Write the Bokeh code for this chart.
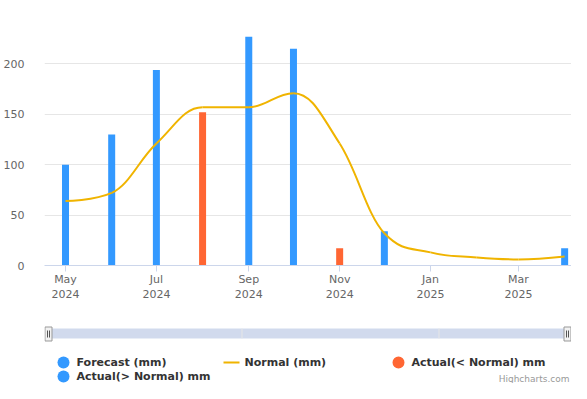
from datetime import datetime, timezone
from bokeh.plotting import figure
from bokeh.layouts import column
from bokeh.models import Range1d, FixedTicker
from bokeh.embed import file_html
from bokeh.resources import INLINE
from bokeh.core.properties import value

# ---------------- data ----------------
months = ["2024-05", "2024-06", "2024-07", "2024-08", "2024-09", "2024-10",
          "2024-11", "2024-12", "2025-01", "2025-02", "2025-03", "2025-04"]
normal_mm = [64, 72, 121, 157, 157, 171, 121, 32, 13, 8, 6, 9]

above_months = ["2024-05", "2024-06", "2024-07", "2024-09", "2024-10", "2024-12"]
above_mm = [100, 130, 194, 227, 215, 34]

below_months = ["2024-08", "2024-11"]
below_mm = [152, 17]

forecast_months = ["2025-04"]
forecast_mm = [17]

tick_months = ["2024-05", "2024-07", "2024-09", "2024-11", "2025-01", "2025-03"]
tick_labels = ["May\n2024", "Jul\n2024", "Sep\n2024", "Nov\n2024", "Jan\n2025", "Mar\n2025"]

y_ticks = [0, 50, 100, 150, 200, 250]
y_labels = ["0", "50", "100", "150", "200", ""]

legend_labels = ["Forecast (mm)", "Normal (mm)", "Actual(< Normal) mm", "Actual(> Normal) mm"]
credit_text = "Highcharts.com"

# ---------------- styles ----------------
BLUE = "#3399ff"
RED = "#ff6633"
GOLD = "#f0b400"
FONT = "DejaVu Sans"
DAY = 86400000.0
W, H_MAIN, H_BOT = 571, 314, 69
FRAME_L = 44
PX_PER_DAY = 1.49


def ms(m):
    y, mo = m.split("-")
    return datetime(int(y), int(mo), 1, tzinfo=timezone.utc).timestamp() * 1000.0


def spline_segments(xs, ys):
    """Highcharts-style spline control points (affine invariant)."""
    n = len(xs)
    sm = 1.5
    den = sm + 1
    left = [None] * n
    right = [None] * n
    for i in range(1, n - 1):
        px, py = xs[i], ys[i]
        lx, ly = xs[i - 1], ys[i - 1]
        nx, ny = xs[i + 1], ys[i + 1]
        lcx = (sm * px + lx) / den
        lcy = (sm * py + ly) / den
        rcx = (sm * px + nx) / den
        rcy = (sm * py + ny) / den
        corr = 0.0
        if rcx != lcx:
            corr = ((rcy - lcy) * (rcx - px)) / (rcx - lcx) + py - rcy
        lcy += corr
        rcy += corr
        if lcy > ly and lcy > py:
            lcy = max(ly, py)
            rcy = 2 * py - lcy
        elif lcy < ly and lcy < py:
            lcy = min(ly, py)
            rcy = 2 * py - lcy
        if rcy > ny and rcy > py:
            rcy = max(ny, py)
            lcy = 2 * py - rcy
        elif rcy < ny and rcy < py:
            rcy = min(ny, py)
            lcy = 2 * py - rcy
        left[i] = (lcx, lcy)
        right[i] = (rcx, rcy)
    seg = dict(x0=[], y0=[], x1=[], y1=[], cx0=[], cy0=[], cx1=[], cy1=[])
    for i in range(1, n):
        c0 = right[i - 1] if right[i - 1] else (xs[i - 1], ys[i - 1])
        c1 = left[i] if left[i] else (xs[i], ys[i])
        seg["x0"].append(xs[i - 1]); seg["y0"].append(ys[i - 1])
        seg["x1"].append(xs[i]); seg["y1"].append(ys[i])
        seg["cx0"].append(c0[0]); seg["cy0"].append(c0[1])
        seg["cx1"].append(c1[0]); seg["cy1"].append(c1[1])
    return seg


# ---------------- main chart ----------------
x_start = ms("2024-05") - 21.0 / PX_PER_DAY * DAY
x_end = x_start + (W - FRAME_L) / PX_PER_DAY * DAY

p = figure(width=W, height=H_MAIN, x_axis_type="datetime",
           x_range=Range1d(x_start, x_end), y_range=Range1d(0, 250),
           output_backend="svg", toolbar_location=None,
           min_border_left=FRAME_L, min_border_right=0, min_border_top=13,
           min_border_bottom=49)
p.outline_line_color = None
p.background_fill_color = "white"
p.border_fill_color = "white"
p.xgrid.visible = False
p.ygrid.grid_line_color = "#e6e6e6"
p.ygrid.grid_line_width = 1

p.yaxis.ticker = FixedTicker(ticks=y_ticks, minor_ticks=[])
p.yaxis.major_label_overrides = {t: l for t, l in zip(y_ticks, y_labels)}
p.yaxis.axis_line_color = None
p.yaxis.major_tick_line_color = None
p.yaxis.minor_tick_line_color = None
p.yaxis.major_label_standoff = 14
p.yaxis.major_label_text_font = FONT
p.yaxis.major_label_text_font_size = "11px"
p.yaxis.major_label_text_color = "#666666"

tick_ms = [ms(m) for m in tick_months]
p.xaxis.ticker = FixedTicker(ticks=tick_ms, minor_ticks=[])
p.xaxis.major_label_overrides = {t: l for t, l in zip(tick_ms, tick_labels)}
p.xaxis.axis_line_color = "#ccd6eb"
p.xaxis.major_tick_line_color = "#ccd6eb"
p.xaxis.major_tick_out = 6
p.xaxis.major_tick_in = 0
p.xaxis.minor_tick_line_color = None
p.xaxis.major_label_standoff = 1
p.xaxis.major_label_text_font = FONT
p.xaxis.major_label_text_font_size = "11px"
p.xaxis.major_label_text_color = "#666666"

bar_w = 7.0 / PX_PER_DAY * DAY
p.vbar(x=[ms(m) for m in above_months], top=above_mm, width=bar_w,
       fill_color=BLUE, line_color=None)
p.vbar(x=[ms(m) for m in below_months], top=below_mm, width=bar_w,
       fill_color=RED, line_color=None)
p.vbar(x=[ms(m) for m in forecast_months], top=forecast_mm, width=bar_w,
       fill_color=BLUE, line_color=None)

seg = spline_segments([ms(m) for m in months], normal_mm)
p.bezier(x0=seg["x0"], y0=seg["y0"], x1=seg["x1"], y1=seg["y1"],
         cx0=seg["cx0"], cy0=seg["cy0"], cx1=seg["cx1"], cy1=seg["cy1"],
         line_color=GOLD, line_width=2)

# ---------------- navigator + legend (screen-like coordinates) ----------------
q = figure(width=W, height=H_BOT, x_range=Range1d(FRAME_L, W),
           y_range=Range1d(H_MAIN + H_BOT, H_MAIN),
           output_backend="svg", toolbar_location=None,
           x_axis_location=None, y_axis_location=None,
           min_border_left=FRAME_L, min_border_right=0, min_border_top=0,
           min_border_bottom=0)
q.outline_line_color = None
q.grid.visible = False
q.background_fill_color = "white"
q.border_fill_color = "white"

# navigator mask
q.quad(left=[48], right=[567], top=[328], bottom=[338],
       fill_color="rgba(102,133,194,0.3)", line_color=None)
q.segment(x0=[241.5, 438.5], x1=[241.5, 438.5], y0=[328, 328], y1=[338, 338],
          line_color="#e6e6e6", line_width=1)
# handles
q.quad(left=[44.5, 563.5], right=[51.5, 570.5], top=[326.5, 326.5], bottom=[340.5, 340.5],
       fill_color="#f2f2f2", line_color="#999999", line_width=1)
q.segment(x0=[47, 49, 566, 568], x1=[47, 49, 566, 568], y0=[330] * 4, y1=[337] * 4,
          line_color="#555555", line_width=1)

# legend
q.scatter(x=[63, 398, 63], y=[362, 362, 376], size=12, marker="circle",
          fill_color=[BLUE, RED, BLUE], line_color=None)
q.segment(x0=[223], x1=[239], y0=[362], y1=[362], line_color=GOLD, line_width=2)
q.text(x=[76, 244, 411, 76], y=[362, 362, 362, 376], text=legend_labels,
       text_font=value(FONT), text_font_style="bold", text_font_size="11px",
       text_color="#333333", text_baseline="middle", text_align="left")

q.text(x=[569], y=[378], text=[credit_text], text_font=value(FONT),
       text_font_size="9px", text_color="#999999", text_baseline="middle",
       text_align="right")

layout = column(p, q, spacing=0)
open("out.html", "w").write(file_html(layout, INLINE))
